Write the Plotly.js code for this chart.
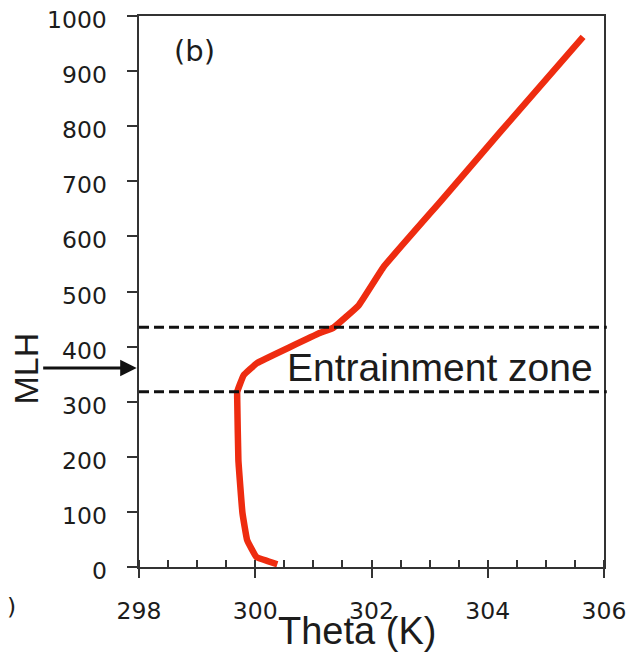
<!DOCTYPE html>
<html>
<head>
<meta charset="utf-8">
<script src="https://cdn.plot.ly/plotly-3.0.1.min.js"></script>
<style>
  html, body { margin: 0; padding: 0; background: #fff; }
  #chart { width: 629px; height: 657px; }
</style>
</head>
<body>
<div id="chart"></div>
<script>
// Potential temperature profile (K) versus height (m)
var theta = [300.38, 300.02, 299.86, 299.78, 299.71, 299.69, 299.69, 299.80, 300.03, 301.12, 301.34, 301.78, 302.21, 303.20, 304.22, 305.64];
var height = [5, 18, 49, 98, 194, 303, 318, 348, 370, 425, 434, 475, 545, 665, 790, 962];

// Entrainment zone bounds (m) and mixed-layer height (m)
var zoneBounds = [318, 435];
var mlh = 361;

var xTicks = [298, 300, 302, 304, 306];
var yTicks = [0, 100, 200, 300, 400, 500, 600, 700, 800, 900, 1000];

var ink = '#1c1c1c';
var tickFont = { family: 'DejaVu Sans, Verdana, sans-serif', size: 23.5, color: ink };
var labelFamily = 'Liberation Sans, Arial, sans-serif';

var trace = {
  x: theta,
  y: height,
  type: 'scatter',
  mode: 'lines',
  line: { color: '#ee2c10', width: 6.5, shape: 'spline', smoothing: 0.25 },
  hoverinfo: 'x+y',
  showlegend: false
};

var shapes = zoneBounds.map(function (h) {
  return {
    type: 'line', xref: 'paper', yref: 'y',
    x0: 0, x1: 1.006, y0: h, y1: h,
    line: { color: '#111', width: 3, dash: '10px,5px' }
  };
});

// height tick labels, placed on the y scale and set well clear of the tick marks
var yLabelNotes = yTicks.map(function (v) {
  return {
    text: String(v), xref: 'paper', yref: 'y', x: -0.064, y: v,
    xanchor: 'right', yanchor: 'middle', yshift: -4,
    showarrow: false, font: tickFont
  };
});

var annotations = yLabelNotes.concat([
  {
    text: '(b)', xref: 'x', yref: 'y', x: 298.95, y: 937,
    showarrow: false, font: { family: 'DejaVu Sans, Verdana, sans-serif', size: 29, color: ink }
  },
  {
    text: 'Entrainment zone', xref: 'paper', yref: 'y', x: 0.98, xanchor: 'right',
    y: 362, yanchor: 'middle',
    showarrow: false, font: { family: labelFamily, size: 39, color: ink }
  },
  {
    text: '', xref: 'paper', yref: 'y', x: -0.005, y: mlh,
    axref: 'pixel', ayref: 'pixel', ax: -95, ay: 0,
    showarrow: true, arrowhead: 2, arrowsize: 1.1, arrowwidth: 3, arrowcolor: '#111',
    standoff: 0
  },
  {
    text: 'MLH', xref: 'paper', yref: 'y', x: -0.242, y: mlh,
    xanchor: 'center', yanchor: 'middle', textangle: -90,
    showarrow: false, font: { family: labelFamily, size: 34, color: ink }
  },
  {
    text: 'Theta (K)', xref: 'paper', yref: 'paper', x: 0.469, y: -0.116,
    xanchor: 'center', yanchor: 'middle',
    showarrow: false, font: { family: labelFamily, size: 38, color: ink }
  },
  {
    text: ')', xref: 'paper', yref: 'paper', x: -0.275, y: -0.072,
    xanchor: 'center', yanchor: 'middle',
    showarrow: false, font: tickFont
  }
]);

var layout = {
  width: 629,
  height: 657,
  margin: { l: 139, r: 25, t: 16, b: 90, pad: 0 },
  paper_bgcolor: '#ffffff',
  plot_bgcolor: '#ffffff',
  xaxis: {
    range: [298, 306],
    tickvals: xTicks,
    ticktext: xTicks.map(String),
    ticks: 'outside', ticklen: 9, tickwidth: 2, tickcolor: '#333',
    ticklabelstandoff: 13,
    minor: { dtick: 0.5, ticks: 'inside', ticklen: 7, tickwidth: 2, tickcolor: '#333', showgrid: false },
    showline: true, linecolor: '#333', linewidth: 2, mirror: true,
    showgrid: false, zeroline: false,
    tickfont: tickFont
  },
  yaxis: {
    range: [0, 1000],
    tickvals: yTicks,
    ticks: 'outside', ticklen: 10, tickwidth: 2, tickcolor: '#333',
    showticklabels: false,
    showline: true, linecolor: '#333', linewidth: 2, mirror: true,
    showgrid: false, zeroline: false
  },
  shapes: shapes,
  annotations: annotations
};

Plotly.newPlot('chart', [trace], layout, { displayModeBar: false, staticPlot: true });
</script>
</body>
</html>
